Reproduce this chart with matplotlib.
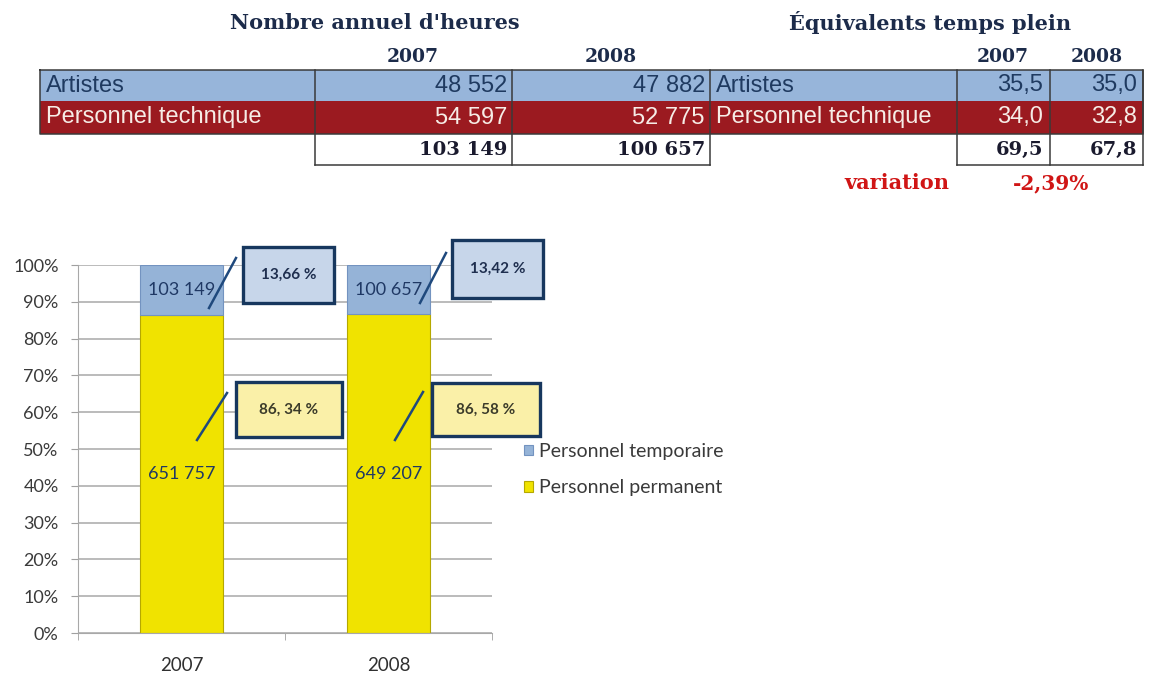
import numpy as np
import matplotlib
matplotlib.use("Agg")
import matplotlib.pyplot as plt
from matplotlib.patches import Rectangle

# heures annuelles et ETP par catégorie
years = ["2007", "2008"]
heures_artistes = [48552, 47882]
heures_technique = [54597, 52775]
etp_artistes = [35.5, 35.0]
etp_technique = [34.0, 32.8]
variation_txt = "-2,39%"

# heures du personnel (graphique empilé)
heures_permanent = [651757, 649207]
heures_temporaire = [a + t for a, t in zip(heures_artistes, heures_technique)]
legend_labels = ["Personnel temporaire", "Personnel permanent"]


def milliers(n):
    return f"{n:,}".replace(",", " ")


def decimal(v):
    return f"{v:.1f}".replace(".", ",")


SANS = "Liberation Sans"
SERIF = "DejaVu Serif"
CHART = "Lato"
NAVY = "#1c2b4a"
BLUE_ROW = "#97b5da"
RED_ROW = "#9b1a20"
BORDER = "#3a3a3a"

fig = plt.figure(figsize=(11.5, 6.75), dpi=100)

# ---- graphique 100 % empilé ----
ax = fig.add_axes([78 / 1150, 1 - 633 / 675, (492 - 78) / 1150, (633 - 265) / 675])
perm = np.array(heures_permanent, dtype=float)
temp = np.array(heures_temporaire, dtype=float)
tot = perm + temp
perm_pct = perm / tot * 100
temp_pct = temp / tot * 100
x = np.arange(len(years))

b_perm = ax.bar(x, perm_pct, width=0.4, color="#f0e300", edgecolor="#b5a800", lw=0.8)
b_temp = ax.bar(x, temp_pct, width=0.4, bottom=perm_pct, color="#95b3d7",
                edgecolor="#7393c0", lw=0.8)

for i in x:
    ax.text(i, perm_pct[i] / 2, milliers(heures_permanent[i]), ha="center", va="center",
            fontsize=13, color="#1f3864", family=CHART)
    ax.text(i, perm_pct[i] + temp_pct[i] / 2, milliers(heures_temporaire[i]),
            ha="center", va="center", fontsize=13, color="#1f3864", family=CHART)

ax.set_xlim(-0.5, 1.5)
ax.set_ylim(0, 100)
ax.set_yticks(np.arange(0, 101, 10))
ax.set_yticklabels([f"{t}%" for t in range(0, 101, 10)], family=CHART, fontsize=13,
                   color="#3a3a3a")
ax.set_xticks(x)
ax.set_xticklabels(years, family=CHART, fontsize=13.5, color="#303030")
ax.set_xticks([-0.5, 0.5, 1.5], minor=True)
ax.tick_params(axis="x", which="major", length=0, pad=17)
ax.tick_params(axis="x", which="minor", length=5, color="#a0a0a0")
ax.tick_params(axis="y", length=5, color="#a0a0a0", pad=9)
ax.yaxis.grid(True, color="#a8a8a8", lw=1.1)
ax.set_axisbelow(True)
for s in ["top", "right"]:
    ax.spines[s].set_visible(False)
for s in ["left", "bottom"]:
    ax.spines[s].set_color("#a8a8a8")

ax.legend([b_temp, b_perm], legend_labels, loc="upper left",
          bbox_to_anchor=(524 / 1150, 1 - 443 / 675), bbox_transform=fig.transFigure,
          frameon=False, prop={"family": CHART, "size": 14}, labelcolor="#3a3a3a",
          handlelength=0.45, handleheight=0.45, handletextpad=0.3, labelspacing=1.0,
          borderpad=0, borderaxespad=0)

# ---- calque en pixels : tableaux et bulles ----
ov = fig.add_axes([0, 0, 1, 1], zorder=5)
ov.set_xlim(0, 1150)
ov.set_ylim(675, 0)
ov.axis("off")

# bulles de pourcentage
callouts = [
    # (texte, boîte x0, y0, x1, y1, fond, trait de rappel)
    (f"{temp_pct[0]:.2f}".replace(".", ",") + " %", 243, 247, 334, 303, "#c7d6ea",
     ((209, 308), (236, 258))),
    (f"{temp_pct[1]:.2f}".replace(".", ",") + " %", 452, 240, 543, 298, "#c7d6ea",
     ((420, 303), (446, 253))),
    (f"{perm_pct[0]:.2f}".replace(".", ", ") + " %", 236, 382, 342, 437, "#faf0a8",
     ((197, 440), (227, 393))),
    (f"{perm_pct[1]:.2f}".replace(".", ", ") + " %", 432, 383, 540, 436, "#faf0a8",
     ((395, 440), (423, 392))),
]
for txt, x0, y0, x1, y1, fc, (p0, p1) in callouts:
    ov.plot([p0[0], p1[0]], [p0[1], p1[1]], color="#1f497d", lw=1.8)
    ov.add_patch(Rectangle((x0, y0), x1 - x0, y1 - y0, facecolor=fc, edgecolor="#17375e",
                           lw=2.4))
    tc = "#1f2f4f" if fc == "#c7d6ea" else "#3b3b2a"
    ov.text((x0 + x1) / 2, (y0 + y1) / 2, txt, ha="center", va="center", fontsize=11,
            fontweight="bold", color=tc, family=CHART)

# titres
ov.text(375, 23, "Nombre annuel d'heures", ha="center", va="center", family=SERIF,
        fontweight="bold", fontsize=15, color=NAVY)
ov.text(930, 23, "Équivalents temps plein", ha="center", va="center", family=SERIF,
        fontweight="bold", fontsize=15, color=NAVY)
for cx, yr in zip([413, 611], years):
    ov.text(cx, 57, yr, ha="center", va="center", family=SERIF, fontweight="bold",
            fontsize=13.5, color=NAVY)
for cx, yr in zip([1003, 1097], years):
    ov.text(cx, 57, yr, ha="center", va="center", family=SERIF, fontweight="bold",
            fontsize=13.5, color=NAVY)

# lignes colorées
rows = [(70, 101, BLUE_ROW, "#1f3a60", "Artistes", heures_artistes, etp_artistes),
        (101, 134, RED_ROW, "#f6ece6", "Personnel technique", heures_technique,
         etp_technique)]
for y0, y1, fc, tc, lab, h, e in rows:
    ov.add_patch(Rectangle((40, y0), 1143 - 40, y1 - y0, facecolor=fc, edgecolor="none"))
    yc = (y0 + y1) / 2
    ov.text(46, yc, lab, ha="left", va="center", family=SANS, fontsize=17, color=tc)
    ov.text(716, yc, lab, ha="left", va="center", family=SANS, fontsize=17, color=tc)
    ov.text(507, yc, milliers(h[0]), ha="right", va="center", family=SANS, fontsize=17,
            color=tc)
    ov.text(705, yc, milliers(h[1]), ha="right", va="center", family=SANS, fontsize=17,
            color=tc)
    ov.text(1043, yc, decimal(e[0]), ha="right", va="center", family=SANS, fontsize=17,
            color=tc)
    ov.text(1137, yc, decimal(e[1]), ha="right", va="center", family=SANS, fontsize=17,
            color=tc)

# totaux
tot_h = [a + t for a, t in zip(heures_artistes, heures_technique)]
tot_e = [a + t for a, t in zip(etp_artistes, etp_technique)]
for xr, v in zip([507, 705], tot_h):
    ov.text(xr, 150, milliers(v), ha="right", va="center", family=SERIF,
            fontweight="bold", fontsize=14, color="#1a1a2e")
for xr, v in zip([1043, 1137], tot_e):
    ov.text(xr, 150, decimal(v), ha="right", va="center", family=SERIF,
            fontweight="bold", fontsize=14, color="#1a1a2e")

# bordures
lw = 1.1
ov.plot([40, 1143, 1143, 40, 40], [70, 70, 134, 134, 70], color=BORDER, lw=lw)
for xv in [315, 512, 710, 957, 1050, 1143]:
    ov.plot([xv, xv], [70, 165], color=BORDER, lw=lw)
ov.plot([315, 710], [165, 165], color=BORDER, lw=lw)
ov.plot([957, 1143], [165, 165], color=BORDER, lw=lw)

ov.text(897, 183, "variation", ha="center", va="center", family=SERIF,
        fontweight="bold", fontsize=15, color="#d01515")
ov.text(1051, 183, variation_txt, ha="center", va="center", family=SERIF,
        fontweight="bold", fontsize=14.5, color="#d01515")

fig.savefig("out.png", dpi=100)
